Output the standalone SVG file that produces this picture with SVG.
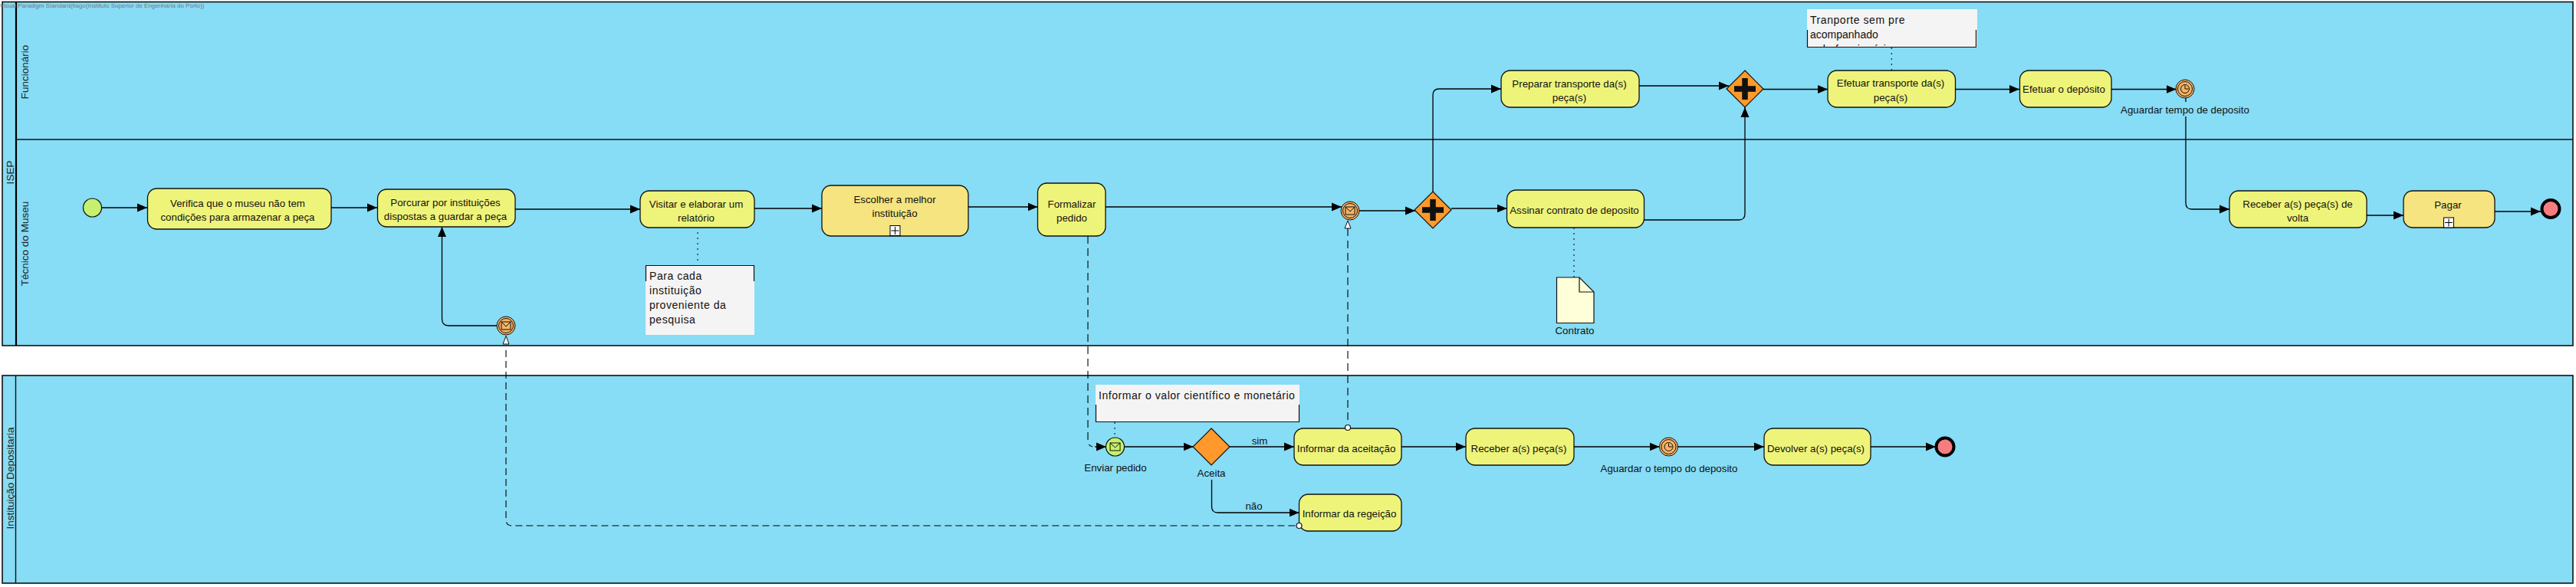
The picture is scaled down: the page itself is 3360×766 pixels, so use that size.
<svg xmlns="http://www.w3.org/2000/svg" width="3360" height="766" viewBox="0 0 3360 766">
<style>
text{font-family:"Liberation Sans",Arial,sans-serif;font-size:13.300px;fill:#111;text-anchor:middle}
.pool{fill:#87dcf6;stroke:#111;stroke-width:1.6}
.lbl{font-size:13.5px;fill:#222}
.task{fill:#eef47a;stroke:#111;stroke-width:1.3}
.sub{fill:#f5e47f;stroke:#111;stroke-width:1.3}
.note{fill:#f4f4f4}
.nb{fill:none;stroke:#111;stroke-width:1.2}
.nt{font-size:14px;text-anchor:start;letter-spacing:.55px}
.gw{fill:#ff992b;stroke:#111;stroke-width:1.2}
.int{fill:#f5b366;stroke:#111;stroke-width:1}
.ic{fill:none;stroke:#111;stroke-width:1}
.end{fill:#f77c80;stroke:#000;stroke-width:4}
.c{fill:none;stroke:#000;stroke-width:1.3;marker-end:url(#a)}
.p{fill:none;stroke:#000;stroke-width:1.3}
.d{fill:none;stroke:#000;stroke-width:1.1;stroke-dasharray:10 6}
.dot{fill:none;stroke:#111;stroke-width:1.1;stroke-dasharray:2 5}
.tri{fill:#fff;stroke:#111;stroke-width:1}
.hole{fill:#fff;stroke:#111;stroke-width:1.2}
.mk{fill:#fff;stroke:#000;stroke-width:1}
</style>
<defs>
<marker id="a" markerUnits="userSpaceOnUse" markerWidth="14" markerHeight="12" refX="13" refY="6" orient="auto"><path d="M0 0.5L13 6L0 11.5z" fill="#000"/></marker>
<clipPath id="c1"><rect x="2357" y="12" width="222" height="49"/></clipPath>
<g id="gx"><path d="M-14 0H14M0-14V14" stroke="#111" stroke-width="7.500" fill="none"/></g>
</defs>

<g id="pool-isep">
<rect class="pool" x="3" y="2.500" width="3353" height="448.500"/>
<path d="M21 3V451" stroke="#000" stroke-width="2.200"/>
<path d="M21 182H3356" stroke="#111" stroke-width="1.600"/>
<text class="lbl" transform="translate(17.500 225) rotate(-90)">ISEP</text>
<text class="lbl" transform="translate(37 94) rotate(-90)">Funcionário</text>
<text class="lbl" transform="translate(37 318) rotate(-90)">Técnico do Museu</text>
<text x="133" y="10" style="font-size:8px;fill:#777" textLength="267" lengthAdjust="spacingAndGlyphs">Visual Paradigm Standard(tiago(Instituto Superior de Engenharia do Porto))</text>
</g>
<g id="pool-instituicao">
<rect class="pool" x="3" y="490" width="3353" height="271"/>
<path d="M20.500 490V761" stroke="#111" stroke-width="1.400"/>
<text class="lbl" transform="translate(18 624) rotate(-90)">Instituição Depositaria</text>
</g>

<g id="n-start"><circle cx="120.500" cy="271" r="12" fill="#c6f06e" stroke="#111" stroke-width="1.200"/></g>
<g id="n-verifica"><rect class="task" x="192.500" y="246" width="239.500" height="53" rx="12"/><text x="310" y="269.500">Verifica que o museu não tem</text><text x="310" y="287.500">condições para armazenar a peça</text></g>
<g id="n-procurar"><rect class="task" x="492.500" y="247" width="179.500" height="49" rx="12"/><text x="581" y="268.500">Porcurar por instituições</text><text x="581" y="286.500">dispostas a guardar a peça</text></g>
<g id="n-visitar"><rect class="task" x="835" y="249" width="149" height="48" rx="12"/><text x="908" y="270.500">Visitar e elaborar um</text><text x="908" y="288.500">relatório</text></g>
<g id="n-nota1"><rect class="note" x="842" y="346" width="142" height="91"/><path class="nb" d="M842.500 367V346.500H983.500V367"/>
<text class="nt" x="847" y="365">Para cada</text><text class="nt" x="847" y="384">instituição</text><text class="nt" x="847" y="403">proveniente da</text><text class="nt" x="847" y="422">pesquisa</text></g>
<g id="n-msg1"><circle class="int" cx="660" cy="425" r="12"/><circle class="ic" cx="660" cy="425" r="9.500"/><rect class="ic" x="654" y="420" width="12" height="10"/><path class="ic" d="M654 420L660 426L666 420"/><path class="tri" d="M660 438.500L664 449H656z"/></g>
<g id="n-escolher"><rect class="sub" x="1072" y="242" width="191" height="66" rx="12"/><text x="1167" y="264.500">Escolher a melhor</text><text x="1167" y="282.500">instituição</text><rect class="mk" x="1161" y="294.500" width="13" height="13"/><path d="M1167.500 296V306M1162.500 301H1172.500" stroke="#000"/></g>
<g id="n-formalizar"><rect class="task" x="1353.500" y="239" width="88.500" height="69" rx="12"/><text x="1398" y="270.500">Formalizar</text><text x="1398" y="288.500">pedido</text></g>
<g id="n-msg2"><circle class="int" cx="1761" cy="275" r="12"/><circle class="ic" cx="1761" cy="275" r="9.500"/><rect class="ic" x="1755" y="270" width="12" height="10"/><path class="ic" d="M1755 270L1761 276L1767 270"/><path class="tri" d="M1758 288L1762 298H1754z"/></g>
<g id="n-gw1"><path class="gw" d="M1869 250L1893 274L1869 298L1845 274z"/><use href="#gx" x="1869" y="274"/></g>
<g id="n-assinar"><rect class="task" x="1965.500" y="248" width="179" height="49" rx="12"/><text x="2053.500" y="278.500">Assinar contrato de deposito</text></g>
<g id="n-contrato"><path d="M2030.500 362H2060L2079 381V421.500H2030.500z" fill="#ffffd9" stroke="#111" stroke-width="1.200"/><path d="M2060 362V381H2079" fill="none" stroke="#111" stroke-width="1.200"/><text x="2054" y="436">Contrato</text></g>
<g id="n-preparar"><rect class="task" x="1958" y="92" width="180" height="48" rx="12"/><text x="2047" y="113.500">Preparar transporte da(s)</text><text x="2047" y="131.500">peça(s)</text></g>
<g id="n-gw2"><path class="gw" d="M2276 92L2300 116L2276 140L2252 116z"/><use href="#gx" x="2276" y="116"/></g>
<g id="n-nota2"><rect class="note" x="2357" y="12" width="222" height="49.500"/><path class="nb" d="M2357.500 39V61.500H2577.500V39"/>
<text class="nt" x="2361" y="31">Tranporte sem pre</text><text class="nt" x="2361" y="50" style="letter-spacing:0">acompanhado</text><text class="nt" x="2361" y="69" clip-path="url(#c1)">pelo funcionário</text></g>
<g id="n-efetuar"><rect class="task" x="2384" y="92" width="166.500" height="48" rx="12"/><text x="2466" y="113">Efetuar transporte da(s)</text><text x="2466" y="131.500">peça(s)</text></g>
<g id="n-deposito"><rect class="task" x="2634.500" y="92" width="119.500" height="48" rx="12"/><text x="2692" y="121">Efetuar o depósito</text></g>
<g id="n-timer1"><circle class="int" cx="2850" cy="116" r="12"/><circle class="ic" cx="2850" cy="116" r="9.500"/><circle class="ic" cx="2850" cy="116" r="5.500"/><path class="ic" d="M2850 111.500V116H2854.500"/><text x="2850" y="148">Aguardar tempo de deposito</text></g>
<g id="n-receber1"><rect class="task" x="2908" y="249" width="179" height="48" rx="12"/><text x="2997" y="270.500">Receber a(s) peça(s) de</text><text x="2997" y="288.500">volta</text></g>
<g id="n-pagar"><rect class="sub" x="3135" y="249" width="119" height="48" rx="12"/><text x="3193" y="272">Pagar</text><rect class="mk" x="3187.500" y="284" width="13" height="13"/><path d="M3194 285.500V295.500M3189 290.500H3199" stroke="#000"/></g>
<g id="n-end1"><circle class="end" cx="3327" cy="272.500" r="11.500"/></g>

<g id="n-nota3"><rect class="note" x="1429" y="502" width="266" height="48.500"/><path class="nb" d="M1429.500 528V550.500H1694.500V528"/><text class="nt" x="1433" y="521">Informar o valor científico e monetário</text></g>
<g id="n-enviar"><circle cx="1454.500" cy="583" r="12" fill="#c6f06e" stroke="#111" stroke-width="1.200"/><rect class="ic" x="1448" y="578" width="13" height="10"/><path class="ic" d="M1448 578L1454.500 584L1461 578"/><text x="1455" y="615">Enviar pedido</text></g>
<g id="n-aceita"><path class="gw" d="M1580 559L1604 583L1580 607L1556 583z"/><text x="1580" y="622">Aceita</text></g>
<g id="n-aceitacao"><rect class="task" x="1688" y="559" width="140" height="48" rx="12"/><text x="1756" y="589.500">Informar da aceitação</text></g>
<g id="n-rejeicao"><rect class="task" x="1694.500" y="645" width="133.500" height="48" rx="12"/><text x="1760" y="674.500">Informar da regeição</text></g>
<g id="n-receber2"><rect class="task" x="1912" y="559" width="141" height="48" rx="12"/><text x="1981" y="589.500">Receber a(s) peça(s)</text></g>
<g id="n-timer2"><circle class="int" cx="2176.500" cy="583" r="12"/><circle class="ic" cx="2176.500" cy="583" r="9.500"/><circle class="ic" cx="2176.500" cy="583" r="5.500"/><path class="ic" d="M2176.500 578.500V583H2181"/><text x="2177" y="615.500">Aguardar o tempo do deposito</text></g>
<g id="n-devolver"><rect class="task" x="2301" y="559" width="139" height="48" rx="12"/><text x="2368.500" y="589.500">Devolver a(s) peça(s)</text></g>
<g id="n-end2"><circle class="end" cx="2537" cy="583" r="11.500"/></g>

<g id="connectors">
<path class="c" d="M132.500 271H192"/>
<path class="c" d="M432 271H492"/>
<path class="c" d="M672 273H835"/>
<path class="c" d="M984 272H1072"/>
<path class="c" d="M1263 270H1353.500"/>
<path class="c" d="M1442 270H1750"/>
<path class="c" d="M1773 275H1846"/>
<path class="c" d="M1893 272H1965.500"/>
<path class="c" d="M648 425H585Q576.500 425 576.500 416V296"/>
<path class="c" d="M1869 250V124Q1869 116 1877 116H1958"/>
<path class="c" d="M2144.500 287H2268Q2276 287 2276 279V140"/>
<path class="c" d="M2138 112H2255"/>
<path class="c" d="M2300 116.500H2384"/>
<path class="c" d="M2550.500 116.500H2634"/>
<path class="c" d="M2754 116.500H2838.500"/>
<path class="p" d="M2851 128V133"/>
<path class="c" d="M2851 152V265Q2851 273 2859 273H2908"/>
<path class="c" d="M3087 281H3135"/>
<path class="c" d="M3254 276H3314"/>
<path class="c" d="M1467 583H1556.500"/>
<path class="c" d="M1604 583H1688"/>
<text x="1643" y="579.500">sim</text>
<path class="c" d="M1828 583H1912"/>
<path class="c" d="M2053 583H2164.500"/>
<path class="c" d="M2188.500 583H2301"/>
<path class="c" d="M2440 583H2525"/>
<path class="c" d="M1580.500 626V661Q1580.500 669 1588.500 669H1694.500"/>
<text x="1635.500" y="664.500">não</text>
<path class="d" d="M1419 308V574Q1419 582 1425 583"/>
<path class="c" d="M1428 583H1443"/>
<path class="d" d="M1758 298V553"/>
<circle class="hole" cx="1758" cy="558" r="3.500"/>
<path class="d" style="stroke-dasharray:9 5" d="M660 457V678Q660 686 668 686H1691"/>
<circle class="hole" cx="1694.500" cy="686" r="3.500"/>
<path class="dot" d="M910 303V342"/>
<path class="dot" d="M2053 297V362"/>
<path class="dot" d="M2467.300 62V92"/>
<path class="dot" d="M1454 551V571"/>
</g>
</svg>
